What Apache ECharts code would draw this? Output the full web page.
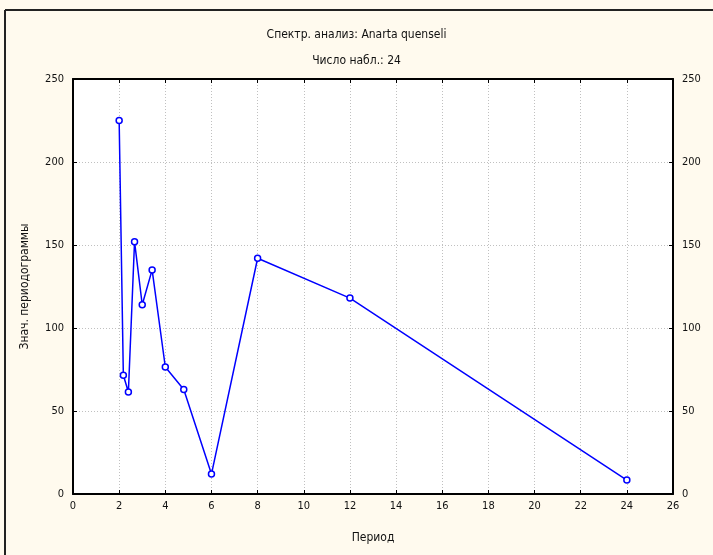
<!DOCTYPE html>
<html>
<head>
<meta charset="utf-8">
<script src="https://cdn.jsdelivr.net/npm/echarts@6/dist/echarts.min.js"></script>
<style>
  html, body { margin: 0; padding: 0; background: #fffaee; }
  #chart { width: 713px; height: 555px; }
</style>
</head>
<body>
<div id="chart"></div>
<script>
// periods 24/k and periodogram values
var periods = [24, 12, 8, 6, 4.8, 4, 3.4286, 3, 2.6667, 2.4, 2.1818, 2]
var values = [8.4, 118, 142, 12, 63, 76.5, 135, 114, 152, 61.5, 71.5, 225]
var xTicks = { min: 0, max: 26, interval: 2 }
var yTicks = { min: 0, max: 250, interval: 50 }

var fontFam = "'Liberation Sans Narrow', 'DejaVu Sans Condensed', 'Liberation Sans', sans-serif"
var myChart = echarts.init(document.getElementById('chart'))

var points = []
for (var i = 0; i < periods.length; i++) {
  points.push([periods[i], values[i]])
}

function axisBase (extra) {
  var base = {
    type: 'value',
    axisLine: { show: true, onZero: false, lineStyle: { color: '#000', width: 2 } },
    axisTick: { show: true, inside: true, length: 4, lineStyle: { color: '#000' } },
    axisLabel: { color: '#111', fontSize: 11, fontFamily: fontFam },
    splitLine: { show: false }
  }
  for (var k in extra) base[k] = extra[k]
  return base
}

var option = {
  backgroundColor: '#fffaee',
  animation: false,
  graphic: [
    // window frame, top and left edges only
    {
      type: 'line',
      shape: { x1: 5, y1: 10, x2: 713, y2: 10 },
      style: { stroke: '#222', lineWidth: 2 }
    },
    {
      type: 'line',
      shape: { x1: 5, y1: 10, x2: 5, y2: 555 },
      style: { stroke: '#222', lineWidth: 2 }
    }
  ],
  title: [
    {
      text: 'Спектр. анализ: Anarta quenseli',
      left: 'center',
      top: 24,
      textStyle: { fontSize: 12, fontWeight: 'normal', color: '#111', fontFamily: fontFam }
    },
    {
      text: 'Число набл.: 24',
      left: 'center',
      top: 50,
      textStyle: { fontSize: 12, fontWeight: 'normal', color: '#111', fontFamily: fontFam }
    }
  ],
  grid: {
    left: 73,
    right: 40,
    top: 79,
    bottom: 61,
    show: true,
    backgroundColor: '#fff',
    borderWidth: 0
  },
  xAxis: [
    axisBase({
      position: 'bottom',
      min: xTicks.min,
      max: xTicks.max,
      interval: xTicks.interval,
      name: 'Период',
      nameLocation: 'middle',
      nameGap: 38,
      nameTextStyle: { color: '#111', fontSize: 12, fontFamily: fontFam },
      axisLabel: { color: '#111', fontSize: 11, fontFamily: fontFam, margin: 7 },
      splitLine: { show: true, lineStyle: { color: '#c0c0c0', type: [1, 2] } }
    }),
    axisBase({
      position: 'top',
      min: xTicks.min,
      max: xTicks.max,
      interval: xTicks.interval,
      axisLabel: { show: false }
    })
  ],
  yAxis: [
    axisBase({
      position: 'left',
      min: yTicks.min,
      max: yTicks.max,
      interval: yTicks.interval,
      name: 'Знач. периодограммы',
      nameLocation: 'middle',
      nameGap: 42,
      nameTextStyle: { color: '#111', fontSize: 12, fontFamily: fontFam },
      axisLabel: { color: '#111', fontSize: 11, fontFamily: fontFam, margin: 9 },
      splitLine: { show: true, lineStyle: { color: '#c0c0c0', type: [1, 2] } }
    }),
    axisBase({
      position: 'right',
      min: yTicks.min,
      max: yTicks.max,
      interval: yTicks.interval,
      axisLabel: { color: '#111', fontSize: 11, fontFamily: fontFam, margin: 9 }
    })
  ],
  series: [
    {
      type: 'line',
      data: points,
      symbol: 'circle',
      symbolSize: 6,
      itemStyle: { color: '#fff', borderColor: '#0000ff', borderWidth: 1.5 },
      lineStyle: { color: '#0000ff', width: 1.5 }
    }
  ]
}

myChart.setOption(option)
</script>
</body>
</html>
